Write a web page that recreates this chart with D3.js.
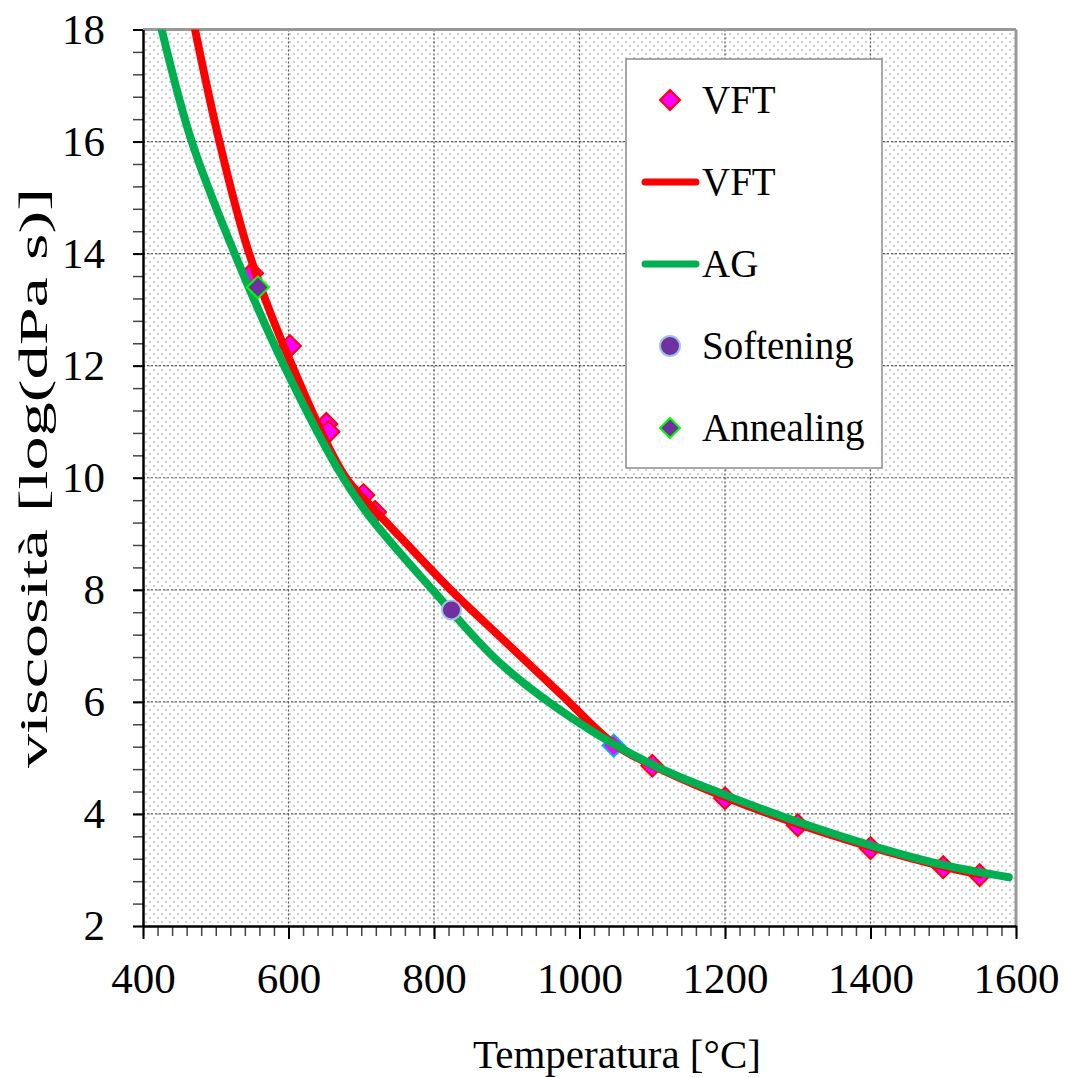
<!DOCTYPE html>
<html>
<head>
<meta charset="utf-8">
<script src="https://cdn.jsdelivr.net/npm/d3@7/dist/d3.min.js"></script>
<style>
  body { margin: 0; background: #fff; }
  text { font-family: "Liberation Serif", "Times New Roman", serif; fill: #000; }
</style>
</head>
<body>
<svg id="chart"></svg>
<script>
// ticks
var tempTicks = [400, 600, 800, 1000, 1200, 1400, 1600];
var viscTicks = [2, 4, 6, 8, 10, 12, 14, 16, 18];

// VFT measured points [T, log eta]
var vftPoints = [
  [550, 13.65], [602, 12.35], [652, 10.96], [655, 10.82], [703, 9.69], [719, 9.39],
  [1100, 4.86], [1200, 4.28], [1300, 3.80], [1400, 3.39], [1500, 3.05], [1550, 2.91]
];
// point with the light blue edge near 1050
var bluePoint = [[1047, 5.22]];

// VFT fitted curve
var vftLine = [
  [471.5, 18], [505, 16], [546, 14], [605, 12], [679, 10], [719, 9.42], [753, 8.95],
  [823, 8], [900, 7.05], [975, 6.13], [1047, 5.25], [1100, 4.87], [1200, 4.3],
  [1300, 3.82], [1400, 3.41], [1500, 3.06], [1550, 2.92]
];
// AG curve
var agLine = [
  [425.7, 18], [467, 16], [526, 14], [594, 12], [675, 10], [712, 9.3], [798, 8],
  [891, 6.69], [1000, 5.62], [1100, 4.88], [1200, 4.34], [1300, 3.86],
  [1400, 3.44], [1500, 3.09], [1590, 2.87]
];
var softening = [[824, 7.64]];
var annealing = [[558, 13.4]];

var legendLabels = ['VFT', 'VFT', 'AG', 'Softening', 'Annealing'];
var legendKinds = ['diamond', 'red', 'green', 'circle', 'annealing'];

var W = 1066, H = 1077;
var pL = 143, pR = 1016, pT = 29.5, pB = 926;
var serif = '"Liberation Serif", "Times New Roman", serif';

var svg = d3.select('#chart').attr('width', W).attr('height', H);

var x = d3.scaleLinear().domain([400, 1600]).range([pL, pR]);
var y = d3.scaleLinear().domain([2, 18]).range([pB, pT]);

// dotted background
var defs = svg.append('defs');
var pat = defs.append('pattern')
  .attr('id', 'dots')
  .attr('patternUnits', 'userSpaceOnUse')
  .attr('width', 8).attr('height', 8);
pat.append('rect').attr('width', 8).attr('height', 8).attr('fill', '#fff');
pat.append('circle').attr('cx', 2).attr('cy', 2).attr('r', 1).attr('fill', '#c0c0c0');
pat.append('circle').attr('cx', 6).attr('cy', 6).attr('r', 1).attr('fill', '#c0c0c0');

defs.append('clipPath').attr('id', 'plotclip')
  .append('rect').attr('x', pL).attr('y', pT)
  .attr('width', pR - pL).attr('height', pB - pT);

svg.append('rect')
  .attr('x', pL).attr('y', pT)
  .attr('width', pR - pL).attr('height', pB - pT)
  .attr('fill', 'url(#dots)');

// grid
var grid = svg.append('g');
grid.selectAll('.vg')
  .data(tempTicks.slice(1, -1))
  .enter().append('line')
  .attr('x1', function(d) { return x(d); }).attr('x2', function(d) { return x(d); })
  .attr('y1', pT).attr('y2', pB)
  .attr('stroke', '#555').attr('stroke-width', 1.2).attr('stroke-dasharray', '2,2');
grid.selectAll('.hg')
  .data(viscTicks.slice(1, -1))
  .enter().append('line')
  .attr('x1', pL).attr('x2', pR)
  .attr('y1', function(d) { return y(d); }).attr('y2', function(d) { return y(d); })
  .attr('stroke', '#555').attr('stroke-width', 1.2).attr('stroke-dasharray', '2,2');

// frame top/right
svg.append('line').attr('x1', pL).attr('x2', pR).attr('y1', pT).attr('y2', pT)
  .attr('stroke', '#999').attr('stroke-width', 3);
svg.append('line').attr('x1', pR).attr('x2', pR).attr('y1', pT).attr('y2', pB)
  .attr('stroke', '#999').attr('stroke-width', 3);

// minor ticks
var minorY = d3.range(2, 18.01, 0.4);
var minorX = d3.range(400, 1600.1, 20);
svg.append('g')
  .attr('transform', 'translate(' + pL + ',0)')
  .call(d3.axisLeft(y).tickValues(minorY).tickSize(10).tickFormat(''))
  .call(function(g) { g.select('.domain').remove(); g.selectAll('line').attr('stroke', '#444').attr('stroke-width', 1.5); });
svg.append('g')
  .attr('transform', 'translate(0,' + pB + ')')
  .call(d3.axisBottom(x).tickValues(minorX).tickSize(10).tickFormat(''))
  .call(function(g) { g.select('.domain').remove(); g.selectAll('line').attr('stroke', '#444').attr('stroke-width', 1.5); });

// major axes
var yAxis = svg.append('g')
  .attr('transform', 'translate(' + pL + ',0)')
  .call(d3.axisLeft(y).tickValues(viscTicks).tickSize(10).tickPadding(28).tickSizeOuter(0).tickFormat(d3.format('d')));
var xAxis = svg.append('g')
  .attr('transform', 'translate(0,' + pB + ')')
  .call(d3.axisBottom(x).tickValues(tempTicks).tickSize(13).tickPadding(23).tickSizeOuter(0).tickFormat(d3.format('d')));
[yAxis, xAxis].forEach(function(g) {
  g.attr('font-family', null).attr('font-size', null);
  g.select('.domain').attr('stroke', '#000').attr('stroke-width', 2.5);
  g.selectAll('line').attr('stroke', '#000').attr('stroke-width', 2);
  g.selectAll('text').style('font-size', '43px').style('font-family', serif).attr('fill', '#000');
});

// axis titles
svg.append('text')
  .attr('x', 617).attr('y', 1068)
  .attr('text-anchor', 'middle')
  .style('font-size', '41px')
  .text('Temperatura [°C]');
svg.append('text')
  .attr('transform', 'translate(47,478) rotate(-90)')
  .attr('text-anchor', 'middle')
  .style('font-size', '40px')
  .attr('textLength', 580)
  .attr('lengthAdjust', 'spacingAndGlyphs')
  .text('viscosità [log(dPa s)]');

var plot = svg.append('g').attr('clip-path', 'url(#plotclip)');
var diamond = d3.symbol().type(d3.symbolSquare).size(240);

// VFT points (behind the lines)
plot.selectAll('.vft')
  .data(vftPoints)
  .enter().append('path')
  .attr('d', diamond)
  .attr('transform', function(d) { return 'translate(' + x(d[0]) + ',' + y(d[1]) + ') rotate(45)'; })
  .attr('fill', '#FF00FF').attr('stroke', '#FF0000').attr('stroke-width', 2);
plot.selectAll('.blue')
  .data(bluePoint)
  .enter().append('path')
  .attr('d', diamond)
  .attr('transform', function(d) { return 'translate(' + x(d[0]) + ',' + y(d[1]) + ') rotate(45)'; })
  .attr('fill', '#FF00FF').attr('stroke', '#00B0F0').attr('stroke-width', 2);

var line = d3.line()
  .x(function(d) { return x(d[0]); })
  .y(function(d) { return y(d[1]); })
  .curve(d3.curveCatmullRom.alpha(0.5));

plot.append('path').datum(vftLine)
  .attr('d', line).attr('fill', 'none')
  .attr('stroke', '#FF0000').attr('stroke-width', 8).attr('stroke-linecap', 'round');
plot.append('path').datum(agLine)
  .attr('d', line).attr('fill', 'none')
  .attr('stroke', '#00B050').attr('stroke-width', 8).attr('stroke-linecap', 'round');

plot.selectAll('.soft')
  .data(softening)
  .enter().append('circle')
  .attr('cx', function(d) { return x(d[0]); })
  .attr('cy', function(d) { return y(d[1]); })
  .attr('r', 9.5)
  .attr('fill', '#7030A0').attr('stroke', '#9DC3E6').attr('stroke-width', 2);
plot.selectAll('.ann')
  .data(annealing)
  .enter().append('path')
  .attr('d', diamond)
  .attr('transform', function(d) { return 'translate(' + x(d[0]) + ',' + y(d[1]) + ') rotate(45)'; })
  .attr('fill', '#7030A0').attr('stroke', '#00FF00').attr('stroke-width', 2);

// legend
var lg = svg.append('g');
lg.append('rect')
  .attr('x', 626).attr('y', 59).attr('width', 256).attr('height', 409)
  .attr('fill', '#fff').attr('stroke', '#8c8c8c').attr('stroke-width', 1.5);

var rows = lg.selectAll('.row')
  .data(legendLabels)
  .enter().append('g')
  .attr('transform', function(d, i) { return 'translate(0,' + (100 + i * 82) + ')'; });
rows.append('text')
  .attr('x', 702).attr('y', 13)
  .style('font-size', '39px')
  .style('font-family', serif)
  .text(function(d) { return d; });
rows.each(function(d, i) {
  var g = d3.select(this);
  var kind = legendKinds[i];
  if (kind === 'diamond' || kind === 'annealing') {
    g.append('path')
      .attr('d', d3.symbol().type(d3.symbolSquare).size(200))
      .attr('transform', 'translate(670,0) rotate(45)')
      .attr('fill', kind === 'diamond' ? '#FF00FF' : '#7030A0')
      .attr('stroke', kind === 'diamond' ? '#FF0000' : '#00FF00')
      .attr('stroke-width', 2);
  } else if (kind === 'circle') {
    g.append('circle').attr('cx', 670).attr('cy', 0).attr('r', 10)
      .attr('fill', '#7030A0').attr('stroke', '#9DC3E6').attr('stroke-width', 2);
  } else {
    g.append('line').attr('x1', 645).attr('x2', 696).attr('y1', 0).attr('y2', 0)
      .attr('stroke', kind === 'red' ? '#FF0000' : '#00B050')
      .attr('stroke-width', 7).attr('stroke-linecap', 'round');
  }
});
</script>
</body>
</html>
